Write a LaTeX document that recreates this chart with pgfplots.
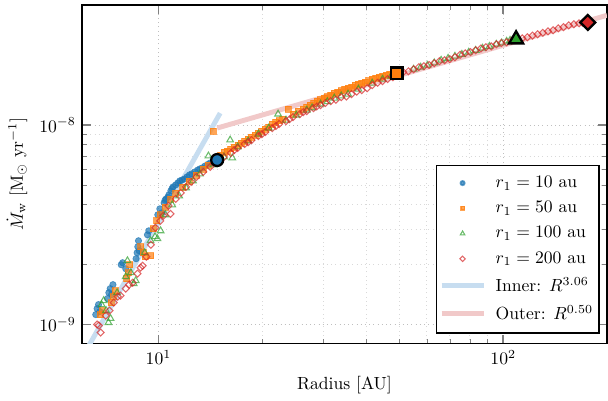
\documentclass[border=0pt]{standalone}
\usepackage{pgfplots}
\usepackage{pgfplotstable}
\pgfplotsset{compat=1.18}
\definecolor{tabblue}{RGB}{31,119,180}
\definecolor{taborange}{RGB}{255,127,14}
\definecolor{tabgreen}{RGB}{44,160,44}
\definecolor{tabred}{RGB}{214,39,40}
\definecolor{innerc}{RGB}{199,221,240}
\definecolor{outerc}{RGB}{241,201,201}
\pgfplotsset{
  legmark/.style={legend image code/.code={\draw[##1, mark size=#1] plot coordinates {(0.42cm,0cm)};}},
  legline/.style={legend image code/.code={\draw[##1] (0cm,0cm) -- (0.84cm,0cm);}},
}

% r1 = 10 au
\pgfplotstableread{
R Mdot
6.577 1.122e-9
6.637 1.202e-9
6.699 1.259e-9
6.761 1.161e-9
7.112 1.349e-9
7.178 1.445e-9
7.244 1.514e-9
7.311 1.413e-9
7.379 1.585e-9
7.798 1.995e-9
7.870 2.042e-9
8.035 1.905e-9
8.610 2.138e-9
8.670 2.291e-9
8.710 2.455e-9
8.750 2.630e-9
8.790 2.344e-9
9.290 2.818e-9
9.376 2.951e-9
9.954 3.548e-9
10.09 3.802e-9
10.23 3.631e-9
10.38 4.074e-9
10.45 4.20e-9
10.52 4.266e-9
10.65 4.35e-9
10.72 4.467e-9
10.86 4.677e-9
10.95 4.80e-9
11.02 4.898e-9
11.22 5.012e-9
11.38 5.129e-9
11.53 5.248e-9
11.70 5.30e-9
11.89 5.370e-9
12.10 5.50e-9
12.30 5.623e-9
12.50 5.70e-9
12.74 5.821e-9
13.00 5.95e-9
13.18 6.026e-9
13.40 6.10e-9
13.65 6.237e-9
13.90 6.35e-9
14.13 6.457e-9
14.40 6.55e-9
}\tabA

% r1 = 50 au
\pgfplotstableread{
R Mdot
6.026 7.943e-10
6.761 1.122e-9
6.855 1.175e-9
7.278 1.288e-9
7.379 1.380e-9
7.499 1.479e-9
8.091 1.698e-9
8.166 1.820e-9
8.241 1.995e-9
8.872 2.455e-9
9.016 2.291e-9
9.162 2.188e-9
9.484 2.213e-9
9.661 3.020e-9
9.886 3.311e-9
10.12 3.548e-9
10.47 3.890e-9
10.84 4.266e-9
11.22 4.571e-9
11.75 4.898e-9
12.30 5.248e-9
12.88 5.623e-9
13.49 6.026e-9
13.96 6.310e-9
14.42 9.333e-9
14.62 6.761e-9
15.14 7.079e-9
15.50 7.30e-9
15.85 7.413e-9
16.20 7.60e-9
16.60 7.762e-9
17.00 7.95e-9
17.38 8.128e-9
17.80 8.30e-9
18.20 8.511e-9
18.60 8.70e-9
19.05 8.913e-9
19.50 9.10e-9
19.95 9.333e-9
20.40 9.55e-9
20.89 9.772e-9
21.40 1.01e-8
21.88 1.035e-8
22.40 1.05e-8
22.91 1.072e-8
23.77 1.202e-8
24.55 1.135e-8
25.40 1.17e-8
26.30 1.202e-8
26.90 1.23e-8
27.54 1.259e-8
28.20 1.29e-8
28.84 1.318e-8
29.50 1.34e-8
30.20 1.365e-8
30.90 1.39e-8
31.62 1.413e-8
32.40 1.44e-8
33.11 1.462e-8
33.90 1.49e-8
34.67 1.514e-8
35.50 1.53e-8
36.31 1.549e-8
37.20 1.58e-8
38.02 1.603e-8
38.90 1.62e-8
39.81 1.641e-8
40.70 1.67e-8
41.69 1.698e-8
42.70 1.72e-8
43.65 1.738e-8
44.70 1.76e-8
45.71 1.778e-8
46.80 1.80e-8
47.86 1.820e-8
}\tabB

% r1 = 100 au
\pgfplotstableread{
R Mdot
6.839 1.259e-9
6.934 1.318e-9
7.047 1.175e-9
7.161 1.023e-9
7.261 1.072e-9
7.586 1.445e-9
8.035 1.738e-9
8.128 2.089e-9
8.318 1.820e-9
8.472 1.603e-9
8.590 1.660e-9
9.120 2.291e-9
9.484 2.630e-9
9.772 2.754e-9
9.931 2.692e-9
10.14 2.951e-9
10.47 3.548e-9
10.96 3.981e-9
11.48 4.416e-9
12.02 4.842e-9
12.59 5.248e-9
13.18 5.689e-9
13.96 6.998e-9
14.45 6.310e-9
15.49 6.918e-9
16.14 8.414e-9
16.37 6.839e-9
16.98 7.762e-9
18.20 8.318e-9
19.50 9.016e-9
20.89 9.661e-9
22.23 1.135e-8
23.44 1.059e-8
25.12 1.122e-8
26.92 1.189e-8
27.90 1.22e-8
29.51 1.274e-8
30.90 1.31e-8
32.36 1.365e-8
33.90 1.40e-8
35.48 1.429e-8
38.02 1.514e-8
41.69 1.622e-8
44.67 1.698e-8
47.30 1.76e-8
50.12 1.820e-8
54.95 1.905e-8
57.60 1.95e-8
60.26 1.995e-8
63.10 2.05e-8
66.07 2.113e-8
69.20 2.16e-8
72.44 2.213e-8
75.90 2.26e-8
79.43 2.317e-8
83.20 2.37e-8
87.10 2.427e-8
91.20 2.48e-8
95.50 2.541e-8
99.00 2.58e-8
102.3 2.630e-8
104.7 2.66e-8
107.2 2.692e-8
}\tabC

% r1 = 200 au
\pgfplotstableread{
R Mdot
6.637 1.000e-9
6.714 9.886e-10
6.792 9.120e-10
7.031 1.109e-9
7.211 1.175e-9
7.413 1.288e-9
7.621 1.380e-9
7.762 1.396e-9
8.035 1.514e-9
8.222 1.585e-9
8.414 1.622e-9
8.690 1.799e-9
8.872 1.928e-9
8.995 1.972e-9
9.226 2.188e-9
9.506 2.512e-9
9.795 3.055e-9
10.12 3.311e-9
10.33 3.508e-9
10.69 3.936e-9
10.84 3.589e-9
11.22 4.266e-9
11.61 4.571e-9
12.02 4.898e-9
12.45 5.188e-9
12.88 5.495e-9
13.49 5.821e-9
14.13 6.166e-9
14.79 6.531e-9
15.10 6.70e-9
15.49 6.918e-9
16.22 7.244e-9
16.60 7.50e-9
16.98 7.674e-9
17.78 8.035e-9
18.20 8.20e-9
18.62 8.414e-9
19.50 8.810e-9
19.95 9.00e-9
20.42 9.226e-9
21.38 9.661e-9
21.90 9.90e-9
22.39 1.012e-8
23.44 1.047e-8
24.00 1.07e-8
24.55 1.096e-8
25.70 1.135e-8
26.30 1.16e-8
26.92 1.175e-8
28.18 1.216e-8
28.80 1.24e-8
29.51 1.259e-8
30.50 1.29e-8
31.62 1.318e-8
32.70 1.34e-8
33.88 1.380e-8
35.10 1.39e-8
36.31 1.429e-8
37.60 1.47e-8
38.90 1.496e-8
40.30 1.53e-8
41.69 1.585e-8
43.20 1.63e-8
44.67 1.660e-8
46.20 1.70e-8
47.86 1.738e-8
49.50 1.80e-8
51.29 1.841e-8
53.10 1.86e-8
54.95 1.905e-8
56.90 1.95e-8
58.88 1.972e-8
61.00 2.00e-8
63.10 2.042e-8
65.30 2.09e-8
67.61 2.113e-8
70.00 2.14e-8
72.44 2.188e-8
75.00 2.25e-8
77.62 2.291e-8
80.40 2.32e-8
83.18 2.371e-8
86.10 2.42e-8
89.13 2.455e-8
92.30 2.48e-8
95.50 2.541e-8
98.80 2.58e-8
102.3 2.600e-8
105.9 2.65e-8
109.6 2.692e-8
113.5 2.72e-8
117.5 2.754e-8
121.6 2.81e-8
125.9 2.851e-8
130.3 2.90e-8
134.9 2.951e-8
139.6 2.99e-8
144.5 3.055e-8
149.6 3.10e-8
154.9 3.162e-8
160.4 3.20e-8
166.0 3.236e-8
170.0 3.26e-8
173.8 3.273e-8
}\tabD

\begin{document}
\begin{tikzpicture}
\path[use as bounding box] (-46.6pt,-32.4pt) rectangle (298.9pt,195.4pt);
\begin{axis}[
  xmode=log, ymode=log,
  scale only axis,
  width=298.3pt, height=192.6pt,
  xmin=6, xmax=200, ymin=8e-10, ymax=4e-8,
  xtick={10,100}, ytick={1e-9,1e-8},
  tick align=inside,
  major tick length=5pt, minor tick length=2.8pt,
  every major tick/.append style={line width=0.8pt},
  axis line style={line width=0.7pt},
  grid=both,
  major grid style={dotted, gray!50, line width=0.4pt},
  minor grid style={dotted, gray!30, line width=0.4pt},
  xlabel={Radius [AU]},
  ylabel={$\dot{M}_{\mathrm{w}}$ [M$_{\odot}$ yr$^{-1}$]},
  legend cell align=left,
  legend style={at={(rel axis cs:0.987,0.03)}, anchor=south east,
    draw=black, line width=1pt, fill=white, row sep=2.4pt, column sep=3.5pt,
    inner xsep=1.5pt, inner ysep=4pt},
]
% power-law fits
\addplot[forget plot, innerc, line width=2.8pt] coordinates {(5.5,5.22e-10) (15.1,1.148e-8)};
\addplot[forget plot, outerc, line width=2.8pt] coordinates {(14.8,9.66e-9) (200,3.55e-8)};

\addplot[only marks, mark=*, mark size=1.8pt,
  mark options={draw=tabblue, fill=tabblue, opacity=0.7}, legmark=1.2pt]
  table[x=R, y=Mdot] {\tabA};
\addlegendentry{$r_1 = 10$ au}
\addplot[only marks, mark=square*, mark size=1.7pt,
  mark options={draw=taborange, fill=taborange, opacity=0.7}, legmark=1.1pt]
  table[x=R, y=Mdot] {\tabB};
\addlegendentry{$r_1 = 50$ au}
\addplot[only marks, mark=triangle, mark size=2.2pt,
  mark options={draw=tabgreen, line width=0.6pt, opacity=0.7}, legmark=1.5pt]
  table[x=R, y=Mdot] {\tabC};
\addlegendentry{$r_1 = 100$ au}
\addplot[only marks, mark=square, mark size=1.4pt,
  mark options={draw=tabred, line width=0.6pt, rotate=45, opacity=0.7}, legmark=1.1pt]
  table[x=R, y=Mdot] {\tabD};
\addlegendentry{$r_1 = 200$ au}

% end points
\addplot[forget plot, only marks, mark=*, mark size=3.4pt,
  mark options={draw=black, fill=tabblue, line width=1.3pt}] coordinates {(14.8,6.68e-9)};
\addplot[forget plot, only marks, mark=square*, mark size=3.3pt,
  mark options={draw=black, fill=taborange, line width=1.3pt}] coordinates {(49.1,1.82e-8)};
\addplot[forget plot, only marks, mark=triangle*, mark size=4.6pt,
  mark options={draw=black, fill=tabgreen, line width=1.3pt}] coordinates {(109,2.69e-8)};
\addplot[forget plot, only marks, mark=square*, mark size=3pt,
  mark options={draw=black, fill=tabred, line width=1.3pt, rotate=45}] coordinates {(176,3.27e-8)};

\addlegendimage{innerc, line width=2.8pt, legline}
\addlegendentry{Inner: $R^{3.06}$}
\addlegendimage{outerc, line width=2.8pt, legline}
\addlegendentry{Outer: $R^{0.50}$}
\end{axis}
\end{tikzpicture}
\end{document}
